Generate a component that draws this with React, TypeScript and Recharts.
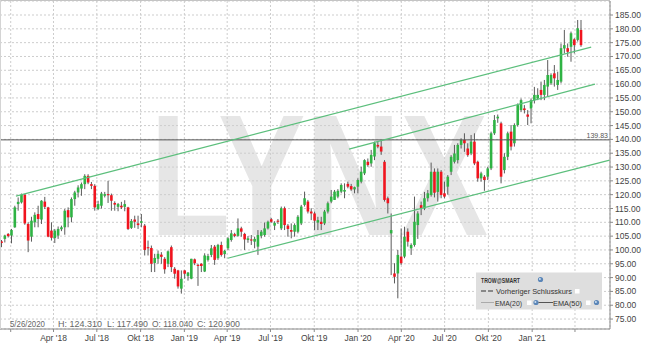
import React from 'react';
import { ComposedChart, Bar, XAxis, YAxis, CartesianGrid, ReferenceLine } from 'recharts';

const FONT = '"Liberation Sans", Arial, sans-serif';

// weekly candles, day numbers counted from 1 Jan 2018
const FIRST_DAY = -19;

const opens = [
  103.1, 104, 105.8, 105.2, 108.2, 116.6, 117.2, 120, 109.4, 104.8, 110, 113, 111, 117.5, 115.4, 107,
  104.3, 105.2, 107.5, 108.2, 114.4, 111.8, 118.4, 120.8, 122.2, 123.8, 126.8, 123.8, 123.2, 114.8, 116, 119.6,
  120.2, 119.8, 117, 115.6, 116, 115.6, 115.4, 108, 111, 109.6, 109.8, 108.8, 101, 100.7, 95.3, 96.8,
  98.3, 96.8, 95, 101, 93.2, 92.6, 86, 92.6, 90.6, 89.6, 96.6, 94.6, 95, 92.2, 96.4, 98.2,
  101.2, 97, 101.8, 98.5, 100.6, 103.6, 105.7, 105.1, 107.8, 105.8, 103.6, 103.8, 103, 101.2, 105.1, 105.4,
  107.8, 111.1, 108.8, 110.6, 107.8, 115.1, 108.8, 107.2, 106.6, 106.6, 109.6, 116.3, 117.5, 113.9, 113.2, 109.9,
  110.2, 109.6, 113.9, 117.5, 118.1, 119.3, 121.1, 121.1, 123.9, 123.1, 121.9, 122.9, 124.7, 127.7, 131.9, 131.3,
  133.8, 138, 137.4, 131.9, 118.7, 106, 91.5, 91.5, 97.6, 97.6, 106.6, 100.6, 101.8,
  109, 116.2, 115, 118.7, 119.9, 128.3, 121, 128.3, 120.5, 122.9, 128.3, 131.9, 132.5, 138, 139.8, 136.7,
  134.9, 139.2, 131.9, 125.9, 126.5, 126.5, 129.5, 142.2, 147.6, 145.8, 128.9, 133.7, 142.8, 138.6, 145.2, 150.6,
  151.2, 149, 151.2, 154.2, 154.8, 157.9, 156.1, 159.1, 160.3, 163.9, 159.7, 160.9, 172.9, 173, 173.5, 176.2,
  176, 179.6,
];

const highs = [
  103.6, 105.5, 106.1, 107.6, 116, 119, 120.4, 120.2, 110, 112, 113.6, 116, 118, 119.2, 115.6, 110,
  107.6, 108.5, 108.8, 114.8, 115.4, 119, 121.4, 123.4, 124.4, 127.4, 127.4, 124.6, 123.8, 117.8, 121, 121,
  125, 120.4, 117.6, 117, 117.4, 118, 115.6, 111.2, 112.4, 112.4, 113, 109.4, 103.4, 101.6, 98.6, 99.8,
  99.2, 97.4, 99.8, 101.6, 93.8, 92.8, 92.6, 92.7, 92, 96.8, 96.9, 95, 95.2, 98.8, 98.6, 101.8,
  101.8, 102.2, 103, 100, 104.6, 107.2, 106.2, 111.4, 108.4, 106.2, 105, 105.4, 104.8, 107.2, 107.2, 109.9,
  110.6, 111.6, 110.4, 111.2, 115.7, 115.7, 109.4, 109.6, 109.6, 112.6, 116.3, 121.1, 118.1, 115.1, 113.9, 112,
  112, 114.5, 117.5, 121.7, 121.7, 122, 124.1, 124.1, 124.7, 123.9, 122.9, 125.9, 130.1, 132.8, 133.1, 136.2,
  139.2, 139.2, 139.8, 132.5, 119.3, 113.2, 95.2, 100, 107.8, 108.4, 107.8, 102.4, 119.3,
  114, 117.5, 121, 121.7, 131.6, 129.5, 129.5, 128.9, 124.7, 127.1, 134.3, 138, 138.6, 140.4, 142.2, 138.6,
  141.6, 142.2, 132.3, 128.3, 127.1, 130.1, 142.8, 148.8, 149, 146.4, 135, 142.8, 145.2, 145.8, 153, 154.8,
  152.4, 150.6, 154.8, 159, 158.5, 160.9, 161.5, 168.7, 163.9, 166.9, 164.5, 174.7, 179.6, 174.7, 179, 176.6,
  183.2, 183.2,
];

const lows = [
  101, 102.7, 104.5, 102.4, 108, 114.2, 116.8, 109.1, 99.2, 103, 108.2, 108.2, 109.4, 114.8, 104.6, 103.4,
  102.5, 104, 106.8, 105.5, 108.2, 110, 116, 119, 119.6, 122, 123.8, 122, 114.2, 114.4, 115, 119,
  117, 114.2, 114.2, 114, 114.8, 114, 107.2, 107.6, 108, 107.6, 108.2, 98, 98, 92, 92, 95,
  95, 91.4, 93.8, 92, 89.6, 86, 84.2, 89.6, 88.9, 89.4, 94.5, 87, 92, 92, 95.8, 97.4,
  94.6, 96.4, 97.6, 97, 100, 103, 104.6, 104.8, 104.8, 100, 102.6, 101.8, 100.6, 98.2, 104.2, 104.8,
  107.4, 109.8, 107.2, 109.4, 107.2, 107.2, 104.8, 104.2, 104.8, 106, 109, 115.7, 113.2, 110.8, 107.2, 107.2,
  107.2, 109, 113.2, 116.9, 118.1, 118.7, 120.5, 118.7, 122.3, 121.4, 120.5, 120.5, 124.1, 127.1, 130.1, 130.1,
  132.5, 136.8, 134.4, 117.5, 113.2, 90.9, 87.9, 82.5, 94.6, 97, 101.2, 98.2, 101.2,
  104, 112.6, 114.4, 117.5, 119.3, 119, 117.5, 118.7, 118.7, 120, 127.1, 131.3, 131.3, 136.7, 135.5, 133.7,
  134.3, 130.7, 124.7, 124.7, 121.4, 125.3, 128.9, 141.6, 146, 124.1, 127.7, 132.5, 136, 137.4, 144.6, 150,
  149.4, 145.2, 145.8, 153, 154.2, 154.2, 154.2, 155.5, 159.7, 159.1, 157.9, 160.3, 171.1, 169.9, 168.1, 171.1,
  175.4, 173.5,
];

const closes = [
  102.5, 105.2, 105, 107.2, 115.4, 117.4, 119.9, 109.6, 103.4, 110.6, 112.7, 111.2, 117.8, 115.6, 104.8, 104.4,
  107, 107.6, 108.2, 114.2, 111.8, 118.4, 120.8, 122.6, 123.8, 126.8, 124.4, 123.2, 115.4, 116.6, 120.4, 120.2,
  119.8, 117.8, 116.4, 116.6, 115.4, 116.6, 107.6, 110.5, 110.2, 109, 110.4, 100, 100.6, 95, 97.1, 98.6,
  97.5, 93, 99.5, 93.8, 91.4, 86.8, 89.6, 91.4, 91.8, 96.8, 95.2, 94.2, 94.2, 98, 97.8, 100.6,
  96.4, 101.8, 98.2, 99.7, 104.2, 106, 105.1, 107.8, 106.6, 103.8, 104.2, 103.4, 104, 105.4, 106.6, 107.8,
  110.2, 110.2, 109.8, 110.2, 115.1, 109, 107.6, 106.6, 109, 112, 115.7, 118.7, 113.9, 113.2, 110.6, 110.8,
  109.4, 113.9, 116.9, 119.3, 121.1, 121.4, 123.5, 121.7, 122.9, 121.9, 122.7, 125.3, 128.3, 132.5, 130.7, 134.4,
  138.6, 137.4, 135.6, 118.1, 116.9, 107.2, 90.3, 98.2, 95.2, 104.8, 103, 101.8, 110.2,
  113.2, 115, 118.7, 120.5, 128.3, 120.7, 128.3, 119.9, 119.3, 126.5, 133.7, 134.9, 138, 139.8, 138.6, 134.3,
  139.2, 131.3, 125.9, 127.7, 125.3, 129.5, 142.2, 147, 148.2, 126.5, 133.7, 142.2, 137.4, 145.2, 152.4, 154.2,
  150.6, 148.2, 154.2, 156.1, 156.1, 156.1, 159.7, 163.3, 163.3, 162.1, 161.5, 173, 174.1, 171.7, 178.4, 174.1,
  180.2, 174.1,
];

const quarterDays = [0, 90, 181, 273, 365, 455, 546, 638, 730, 821, 912, 1004, 1096, 1186];
const quarterLabels = ['', "Apr '18", "Jul '18", "Okt '18", "Jan '19", "Apr '19", "Jul '19", "Okt '19", "Jan '20", "Apr '20", "Jul '20", "Okt '20", "Jan '21", ''];
const priceTicks = [75, 80, 85, 90, 95, 100, 105, 110, 115, 120, 125, 130, 135, 140, 145, 150, 155, 160, 165, 170, 175, 180, 185];

const prevClose = 139.83;

// trend channel, [day, price] end points
const channelUpper = [{ x: 11, y: 119.5 }, { x: 1220, y: 173.4 }];
const channelMiddle = [{ x: 711, y: 136.5 }, { x: 1228, y: 160 }];
const channelLower = [{ x: 456, y: 97 }, { x: 1259, y: 132.5 }];

const data = closes.map((c, i) => ({
  day: FIRST_DAY + i * 7,
  open: opens[i],
  high: highs[i],
  low: lows[i],
  close: c,
  range: [lows[i], highs[i]],
}));

const UP = '#2fb344';
const DOWN = '#f0141e';
const CHANNEL = '#5cbf7c';

const Candle = (props: any) => {
  const { x, y, width, height, payload } = props;
  if (!payload || height == null) return null;
  const { open, close, high, low } = payload;
  const cx = x + width / 2;
  const k = height / (high - low);
  const yOf = (v: number) => y + (high - v) * k;
  const top = yOf(Math.max(open, close));
  const bot = yOf(Math.min(open, close));
  return (
    <g>
      <line x1={cx} x2={cx} y1={y} y2={y + height} stroke="#5a5a5a" strokeWidth={1} />
      <rect x={cx - 1.3} y={top} width={2.6} height={Math.max(bot - top, 1)} fill={close >= open ? UP : DOWN} />
    </g>
  );
};

const QuarterTick = (props: any) => {
  const { x, y, payload } = props;
  const label = quarterLabels[quarterDays.indexOf(payload.value)];
  if (!label) return <g />;
  return (
    <text x={x} y={y} dy="0.71em" textAnchor="middle" fontSize={8.5} fill="#444" fontFamily={FONT}>
      {label}
    </text>
  );
};

const PrevCloseLabel = (props: any) => {
  const vb = props.viewBox || {};
  return (
    <text x={vb.x + vb.width - 2} y={vb.y - 2} textAnchor="end" fontSize={7} fill="#555" fontFamily={FONT}>
      {prevClose.toFixed(2)}
    </text>
  );
};

const Globe = ({ x, y }: { x: number; y: number }) => (
  <g>
    <circle cx={x} cy={y} r={2.6} fill="#5b86b8" />
    <circle cx={x - 0.6} cy={y - 0.6} r={1} fill="#cfe0f0" />
  </g>
);

export default function App() {
  return (
    <div style={{ position: 'absolute', left: 0, top: 0, width: 645, height: 348, background: '#fff', fontFamily: FONT }}>
      <svg width={645} height={348} style={{ position: 'absolute', left: 0, top: 0 }}>
        <text x={150} y={235} fontSize={172} fontWeight="bold" fill="#e6e6e6" textLength={338} lengthAdjust="spacingAndGlyphs" fontFamily={FONT}>
          LYNX
        </text>
      </svg>
      <div style={{ position: 'absolute', left: 0, top: 0 }}>
        <ComposedChart width={645} height={348} data={data} margin={{ top: 1, right: 0, bottom: 0, left: 0 }}>
          <CartesianGrid stroke="#cdcdcd" strokeDasharray="2 2" />
          <XAxis
            dataKey="day"
            type="number"
            domain={[-22.5, 1259.6]}
            allowDataOverflow
            ticks={quarterDays}
            tick={<QuarterTick />}
            tickSize={3}
            tickMargin={3}
            height={19}
            stroke="#8a8a8a"
            interval={0}
          />
          <YAxis
            orientation="right"
            type="number"
            domain={[71.4, 190.07]}
            allowDataOverflow
            ticks={priceTicks}
            tickFormatter={(v: number) => v.toFixed(2)}
            tick={{ fontSize: 8.5, fill: '#444', fontFamily: FONT }}
            tickSize={3}
            tickMargin={2}
            width={35}
            stroke="#8a8a8a"
            interval={0}
          />
          <ReferenceLine y={prevClose} stroke="#555" strokeWidth={1} label={<PrevCloseLabel />} />
          <ReferenceLine segment={channelUpper} stroke={CHANNEL} strokeWidth={1.2} />
          <ReferenceLine segment={channelMiddle} stroke={CHANNEL} strokeWidth={1.2} />
          <ReferenceLine segment={channelLower} stroke={CHANNEL} strokeWidth={1.2} />
          <Bar dataKey="range" barSize={3} shape={(p: any) => <Candle {...p} />} isAnimationActive={false} />
        </ComposedChart>
      </div>
      <svg width={645} height={348} style={{ position: 'absolute', left: 0, top: 0, pointerEvents: 'none' }} fontFamily={FONT}>
        <line x1={0} x2={610} y1={0.5} y2={0.5} stroke="#c4c4c4" />
        <line x1={0.5} x2={0.5} y1={0} y2={329} stroke="#d4d4d4" />
        {/* crosshair info line */}
        <g fill="#666" fontSize={9}>
          <text x={10} y={327} textLength={35} lengthAdjust="spacingAndGlyphs">5/26/2020</text>
          <text x={58} y={327} textLength={44} lengthAdjust="spacingAndGlyphs">H: 124.310</text>
          <text x={107} y={327} textLength={41} lengthAdjust="spacingAndGlyphs">L: 117.490</text>
          <text x={152} y={327} textLength={41} lengthAdjust="spacingAndGlyphs">O: 118.040</text>
          <text x={197} y={327} textLength={43} lengthAdjust="spacingAndGlyphs">C: 120.900</text>
        </g>
        {/* legend box */}
        <rect x={476} y={272.5} width={126} height={37} fill="#dedede" />
        <g fill="#333" fontSize={7.5}>
          <text x={481} y={282.5} fontWeight="bold" textLength={39} lengthAdjust="spacingAndGlyphs">TROW@SMART</text>
          <Globe x={540.5} y={279.5} />
          <line x1={481} x2={494} y1={291} y2={291} stroke="#333" strokeWidth={1.2} strokeDasharray="5 2" />
          <text x={496} y={294} textLength={76} lengthAdjust="spacingAndGlyphs">Vorheriger Schlusskurs</text>
          <rect x={575} y={289} width={4.5} height={4.5} fill="#fff" />
          <line x1={481} x2={494} y1={302.5} y2={302.5} stroke="#aaa" strokeWidth={1} />
          <text x={495} y={305.5} textLength={27} lengthAdjust="spacingAndGlyphs">EMA(20)</text>
          <rect x={527} y={300.5} width={4.5} height={4.5} fill="#fff" />
          <Globe x={536} y={302.5} />
          <line x1={538.5} x2={553} y1={302.5} y2={302.5} stroke="#555" strokeWidth={1} />
          <text x={553} y={305.5} textLength={29} lengthAdjust="spacingAndGlyphs">EMA(50)</text>
          <rect x={586} y={300.5} width={4.5} height={4.5} fill="#fff" />
          <Globe x={596.5} y={302.5} />
        </g>
      </svg>
    </div>
  );
}
